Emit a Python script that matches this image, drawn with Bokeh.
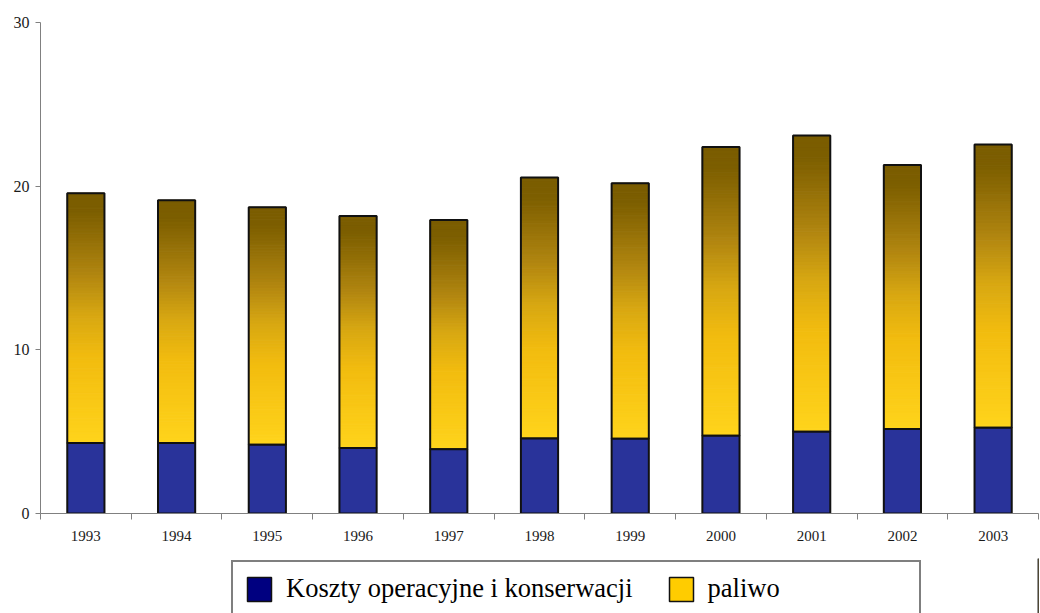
from bokeh.plotting import figure
from bokeh.layouts import column
from bokeh.models import ColumnDataSource, FixedTicker, Legend, LegendItem, Range1d
from bokeh.embed import file_html
from bokeh.resources import INLINE

years = ["1993", "1994", "1995", "1996", "1997", "1998", "1999", "2000", "2001", "2002", "2003"]
opex = [4.3, 4.3, 4.2, 4.0, 3.93, 4.58, 4.56, 4.75, 4.99, 5.17, 5.24]
fuel = [15.27, 14.84, 14.51, 14.18, 14.0, 15.95, 15.62, 17.65, 18.1, 16.13, 17.3]
y_ticks = [0, 10, 20, 30]
series_names = ["Koszty operacyjne i konserwacji", "paliwo"]

SERIF = "Liberation Serif"
n = len(years)
xc = [i + 0.5 for i in range(n)]
W = 0.41

p = figure(width=1040, height=558, output_backend="svg", toolbar_location=None,
           x_range=Range1d(0, n), y_range=Range1d(0, 30),
           min_border_left=40, min_border_right=2, min_border_top=22, min_border_bottom=45)
p.grid.visible = False
p.outline_line_color = None
p.background_fill_color = "white"

# gradient for fuel bars (bottom -> top)
stops = [(0.0, (255, 212, 28)), (0.34, (242, 188, 15)), (0.51, (216, 168, 18)),
         (0.68, (176, 133, 16)), (0.85, (140, 106, 5)), (0.93, (124, 94, 0)), (1.0, (122, 92, 0))]

def grad(t):
    for (t0, c0), (t1, c1) in zip(stops[:-1], stops[1:]):
        if t <= t1:
            f = (t - t0) / (t1 - t0) if t1 > t0 else 0
            return "#%02x%02x%02x" % tuple(int(round(a + (b - a) * f)) for a, b in zip(c0, c1))
    return "#%02x%02x%02x" % stops[-1][1]

N = 80
gx, gb, gt, gc = [], [], [], []
for i in range(n):
    for k in range(N):
        gx.append(xc[i])
        gb.append(opex[i] + fuel[i] * k / N)
        gt.append(opex[i] + fuel[i] * (k + 1) / N)
        gc.append(grad((k + 0.5) / N))
gsrc = ColumnDataSource(dict(x=gx, bottom=gb, top=gt, color=gc))
p.vbar(x="x", bottom="bottom", top="top", width=W, fill_color="color", line_color="color",
       line_width=1, source=gsrc)

total = [a + b for a, b in zip(opex, fuel)]
src = ColumnDataSource(dict(x=xc, opex=opex, total=total))
p.vbar(x="x", bottom="opex", top="total", width=W, fill_color=None, line_color="#111111",
       line_width=2, source=src)
p.vbar(x="x", bottom=0, top="opex", width=W, fill_color="#29339a", line_color="#111111",
       line_width=2, source=src)

# axes
p.yaxis.ticker = FixedTicker(ticks=y_ticks)
p.yaxis.minor_tick_line_color = None
p.yaxis.major_tick_out = 5
p.yaxis.major_tick_in = 0
p.yaxis.major_label_standoff = 6
p.yaxis.axis_line_color = "#808080"
p.yaxis.major_tick_line_color = "#808080"
p.yaxis.major_label_text_font = SERIF
p.yaxis.major_label_text_font_size = "16px"
p.yaxis.major_label_text_color = "#1a1a1a"

p.xaxis.ticker = FixedTicker(ticks=xc, minor_ticks=list(range(n + 1)))
p.xaxis.major_label_overrides = {x: y for x, y in zip(xc, years)}
p.xaxis.major_tick_line_color = None
p.xaxis.major_tick_out = 0
p.xaxis.major_tick_in = 0
p.xaxis.minor_tick_out = 6
p.xaxis.minor_tick_in = 0
p.xaxis.minor_tick_line_color = "#808080"
p.xaxis.axis_line_color = "#808080"
p.xaxis.major_label_standoff = 11
p.xaxis.major_label_text_font = SERIF
p.xaxis.major_label_text_font_size = "15px"
p.xaxis.major_label_text_color = "#1a1a1a"

# legend strip
q = figure(width=1040, height=55, output_backend="svg", toolbar_location=None,
           x_range=Range1d(0, 1), y_range=Range1d(0, 1),
           min_border_left=0, min_border_right=0, min_border_top=0, min_border_bottom=0)
q.axis.visible = False
q.grid.visible = False
q.outline_line_color = None
hidden = ColumnDataSource(dict(x=[5.0], top=[1.0]))
r1 = q.vbar(x="x", top="top", width=0.1, fill_color="#000080", line_color="#111111", line_width=1.5, source=hidden)
r2 = q.vbar(x="x", top="top", width=0.1, fill_color="#ffcc00", line_color="#111111", line_width=1.5, source=hidden)
legend = Legend(items=[LegendItem(label=series_names[0], renderers=[r1]),
                       LegendItem(label=series_names[1], renderers=[r2])],
                orientation="horizontal", location=(191, -4), margin=0, padding=11,
                spacing=33, glyph_width=30, glyph_height=30, label_standoff=12, label_width=200,
                label_text_font=SERIF, label_text_font_size="26.5px", label_text_color="black",
                border_line_color="black", border_line_width=2, background_fill_color="white",
                background_fill_alpha=1)
q.add_layout(legend, "center")

layout = column(p, q, spacing=0)
open("out.html", "w").write(file_html(layout, INLINE))
